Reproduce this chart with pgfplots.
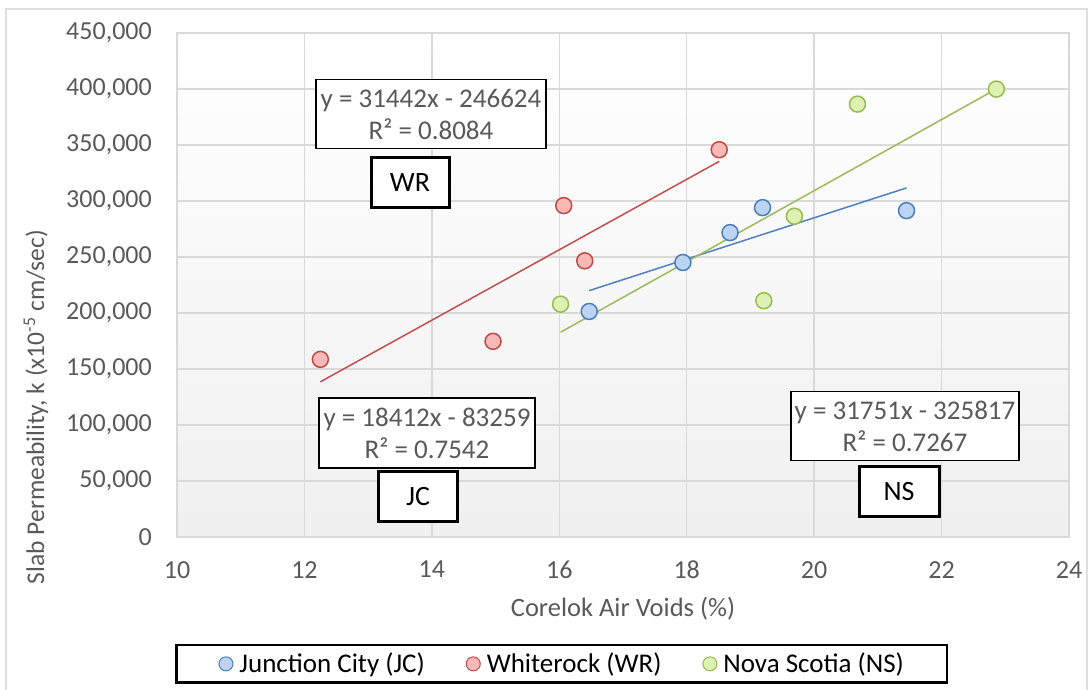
\documentclass[border=0pt]{standalone}
\usepackage{pgfplots}
\pgfplotsset{compat=1.18}
\usepackage{fontspec}
\setmainfont{Carlito}
\definecolor{txt}{HTML}{595959}
\definecolor{gridc}{HTML}{D9D9D9}
\definecolor{jcline}{HTML}{4F81BD}
\definecolor{jcfill}{HTML}{BCD3F2}
\definecolor{jcedge}{HTML}{4A7EBB}
\definecolor{wrline}{HTML}{C0504D}
\definecolor{wrfill}{HTML}{F7B8B6}
\definecolor{wredge}{HTML}{BE4B48}
\definecolor{nsline}{HTML}{9BBB59}
\definecolor{nsfill}{HTML}{DDF2B2}
\definecolor{nsedge}{HTML}{98B954}
\begin{document}
\begin{tikzpicture}[x=1pt,y=1pt]
\useasboundingbox (0,0) rectangle (1090,690);
\draw[gray!25, line width=1.5pt] (6,-2) -- (6,681) -- (1087,681) -- (1087,-2);
\begin{axis}[
  at={(177pt,153pt)}, anchor=south west,
  scale only axis, width=892pt, height=504pt,
  xmin=10, xmax=24, ymin=0, ymax=450000,
  xtick={10,12,...,24}, ytick={0,50000,...,450000},
  scaled y ticks=false,
  /pgf/number format/.cd, fixed, 1000 sep={,}, assume math mode=true, /pgfplots/.cd,
  grid=major, major grid style={gridc, line width=1.5pt},
  axis line style={gridc, line width=1.5pt},
  tick style={draw=none},
  axis background/.style={shade, top color=white, bottom color=black!6},
  ticklabel style={font=\fontsize{26}{30}\selectfont, text=txt},
  yticklabel style={anchor=east, inner sep=0pt, xshift=-25pt},
  xticklabel style={anchor=north, inner sep=0pt, yshift=-24pt},
  xlabel={Corelok Air Voids (\%)},
  ylabel={Slab Permeability, k (x10\textsuperscript{-5} cm/sec)},
  every axis x label/.style={at={(axis description cs:0.5,-0.143)}, anchor=center, font=\fontsize{26.5}{30}\selectfont, text=txt},
  every axis y label/.style={at={(axis description cs:-0.158,0.258)}, rotate=90, anchor=center, font=\fontsize{25.5}{30}\selectfont, text=txt},
  legend columns=3,
  legend style={at={(axis description cs:-0.002,-0.2123)}, anchor=north west,
    draw=black, line width=2.5pt, fill=white, font=\fontsize{27}{31}\selectfont,
    text=black, inner xsep=42pt, inner ysep=7pt,
    nodes={inner sep=1pt},
    /tikz/every odd column/.append style={column sep=5pt},
    /tikz/every even column/.append style={column sep=40pt}},
  clip=false,
]
% trend lines
\addplot[forget plot, jcline, line width=1.5pt] coordinates {(16.47,219987) (21.45,311678)};
\addplot[forget plot, wrline, line width=1.5pt] coordinates {(12.25,138540) (18.51,335367)};
\addplot[forget plot, nsline, line width=1.5pt] coordinates {(16.02,182834) (22.86,400011)};
% data
\addplot[only marks, mark=*, mark size=8pt, mark options={draw=jcedge, fill=jcfill, line width=1.5pt},
  legend image code/.code={\draw[draw=jcedge, fill=jcfill, line width=1pt] (0pt,0pt) circle (7pt);}]
  coordinates {(16.47,201400) (17.94,245100) (18.68,271800) (19.19,294100) (21.45,291400)};
\addlegendentry{Junction City (JC)}
\addplot[only marks, mark=*, mark size=8pt, mark options={draw=wredge, fill=wrfill, line width=1.5pt},
  legend image code/.code={\draw[draw=wredge, fill=wrfill, line width=1pt] (0pt,0pt) circle (7pt);}]
  coordinates {(12.25,158600) (14.96,174700) (16.07,295900) (16.40,246600) (18.51,345800)};
\addlegendentry{Whiterock (WR)}
\addplot[only marks, mark=*, mark size=8pt, mark options={draw=nsedge, fill=nsfill, line width=1.5pt},
  legend image code/.code={\draw[draw=nsedge, fill=nsfill, line width=1pt] (0pt,0pt) circle (7pt);}]
  coordinates {(16.02,207900) (19.21,211000) (19.69,286400) (20.68,386500) (22.86,399900)};
\addlegendentry{Nova Scotia (NS)}
\end{axis}
% annotation boxes
\tikzset{eqbox/.style={draw=black, line width=1.3pt, fill=white, text=txt, align=center,
  font=\fontsize{27}{32}\selectfont, inner sep=0pt},
  lbbox/.style={draw=black, line width=3pt, fill=white, text=black,
  font=\fontsize{28}{32}\selectfont, inner sep=0pt}}
\node[eqbox, minimum width=230pt, minimum height=69pt] at (431,576) {y = 31442x - 246624\\R² = 0.8084};
\node[lbbox, minimum width=78pt, minimum height=50pt] at (410,507) {WR};
\node[eqbox, minimum width=216pt, minimum height=70pt] at (427,257) {y = 18412x - 83259\\R² = 0.7542};
\node[lbbox, minimum width=79pt, minimum height=50pt] at (418,193) {JC};
\node[eqbox, minimum width=228pt, minimum height=69pt] at (905,264) {y = 31751x - 325817\\R² = 0.7267};
\node[lbbox, minimum width=80pt, minimum height=50pt] at (899,198) {NS};
\end{tikzpicture}
\end{document}
